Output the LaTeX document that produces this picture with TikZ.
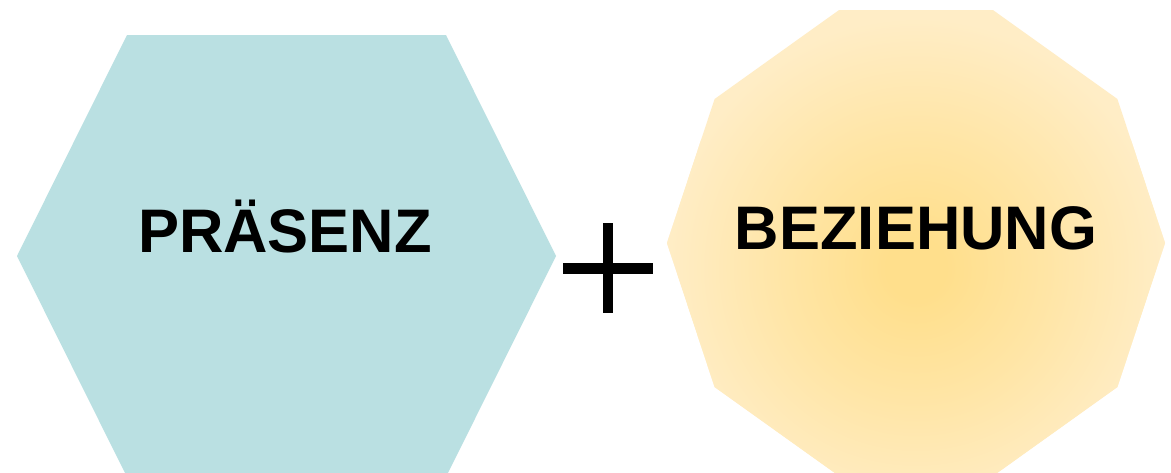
\documentclass[tikz,border=0pt]{standalone}
\usepackage{fontspec}
\setmainfont{Liberation Sans}
\definecolor{hexfill}{RGB}{186,224,226}
\definecolor{decin}{RGB}{255,223,140}
\definecolor{decmid}{RGB}{255,229,165}
\definecolor{decout}{RGB}{255,237,198}
\pgfdeclareradialshading{decshade}{\pgfpoint{0bp}{0bp}}{color(0bp)=(decin); color(3bp)=(decin); color(13bp)=(decmid); color(25bp)=(decout); color(50bp)=(decout)}
\tikzset{
  label text/.style={font=\bfseries\fontsize{61.5}{72}\selectfont, text=black, inner sep=0pt, anchor=base},
  plusbar/.style={fill=black, draw=none}
}
\begin{document}
\begin{tikzpicture}[x=1pt, y=-1pt]
\useasboundingbox (0,0) rectangle (1171,472);
\fill[white] (0,0) rectangle (1171,472);
\clip (0,0) rectangle (1171,472);
% hexagon
\fill[hexfill] (17,256) -- (127,35) -- (446,35) -- (556,256) -- (446,477) -- (127,477) -- cycle;
% decagon
\begin{scope}
\path[clip] (1165,243) -- (1117.4,99) -- (992.9,10) -- (839.1,10) -- (714.6,99) -- (667,243) -- (714.6,387) -- (839.1,476) -- (992.9,476) -- (1117.4,387) -- cycle;
\fill[decout] (660,0) rectangle (1171,480);
\shade[shading=decshade] (916,268) circle[radius=250];
\end{scope}
% plus
\fill[plusbar] (563.3,263.3) rectangle (653.3,274);
\fill[plusbar] (603.3,223.3) rectangle (613.3,313.3);
% labels
\node[label text] (praesenz) at (285,252) {PRÄSENZ};
\node[label text] (beziehung) at (916,249) {BEZIEHUNG};
\end{tikzpicture}
\end{document}
